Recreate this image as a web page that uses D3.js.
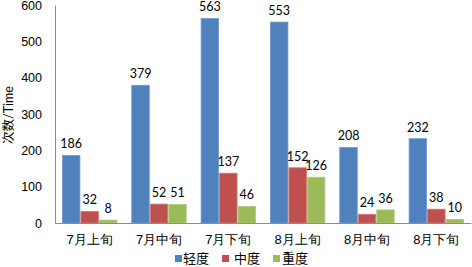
<!DOCTYPE html>
<html>
<head>
<meta charset="utf-8">
<script src="https://cdn.jsdelivr.net/npm/d3@7"></script>
<style>
  body { margin: 0; background: #fff; }
  svg { display: block; font-family: "Lato", "Noto Sans CJK SC", sans-serif; }
</style>
</head>
<body>
<div id="chart"></div>
<script>
const categories = ['7月上旬', '7月中旬', '7月下旬', '8月上旬', '8月中旬', '8月下旬'];
const seriesNames = ['轻度', '中度', '重度'];
const light = [186, 379, 563, 553, 208, 232];
const medium = [32, 52, 137, 152, 24, 38];
const heavy = [8, 51, 46, 126, 36, 10];
const yTicks = [0, 100, 200, 300, 400, 500, 600];
const colors = ['#4F81BD', '#C0504D', '#9BBB59'];
const strokes = ['#7199CB', '#CD7876', '#B0C97F'];

const data = categories.map((c, i) => ({
  category: c,
  values: [light[i], medium[i], heavy[i]]
}));

const width = 472, height = 267;
const plot = { left: 55, right: 471, top: 5, bottom: 223 };

const svg = d3.select('#chart').append('svg')
  .attr('width', width)
  .attr('height', height);

const x0 = d3.scaleBand()
  .domain(categories)
  .range([plot.left, plot.right])
  .paddingInner(0.2)
  .paddingOuter(0.1);

const x1 = d3.scaleBand()
  .domain(d3.range(3))
  .range([0, x0.bandwidth()]);

const y = d3.scaleLinear()
  .domain([0, 600])
  .range([plot.bottom, plot.top]);

// bars
const groups = svg.append('g')
  .selectAll('g')
  .data(data)
  .enter().append('g')
  .attr('transform', d => `translate(${x0(d.category)},0)`);

groups.selectAll('rect')
  .data(d => d.values.map((v, i) => ({ value: v, idx: i })))
  .enter().append('rect')
  .attr('x', d => x1(d.idx) + 0.5)
  .attr('y', d => y(d.value))
  .attr('width', x1.bandwidth() - 1)
  .attr('height', d => y(0) - y(d.value))
  .attr('fill', d => colors[d.idx])
  .attr('stroke', d => strokes[d.idx])
  .attr('stroke-width', 0.8);

// value labels
groups.selectAll('text')
  .data(d => d.values.map((v, i) => ({ value: v, idx: i })))
  .enter().append('text')
  .attr('x', d => x1(d.idx) + x1.bandwidth() / 2)
  .attr('y', d => y(d.value) - 7)
  .attr('text-anchor', 'middle')
  .style('font-size', '12.5px')
  .style('fill', '#000')
  .text(d => d.value);

// y axis
const yAxis = svg.append('g')
  .attr('transform', `translate(${plot.left},0)`)
  .call(d3.axisLeft(y).tickValues(yTicks).tickSize(0).tickPadding(13));
yAxis.select('.domain').attr('stroke', '#8c8c8c');
yAxis.selectAll('.tick text')
  .style('font-size', '12.5px')
  .style('fill', '#000')
  .attr('font-family', null);

// x axis
const xAxis = svg.append('g')
  .attr('transform', `translate(0,${plot.bottom})`)
  .call(d3.axisBottom(x0).tickSize(0).tickPadding(12));
xAxis.select('.domain').attr('stroke', '#8c8c8c');
xAxis.selectAll('.tick text')
  .style('font-size', '13px')
  .style('fill', '#000')
  .attr('font-family', null);

// y axis title
svg.append('text')
  .attr('transform', `translate(13,115) rotate(-90)`)
  .attr('text-anchor', 'middle')
  .style('font-size', '12.5px')
  .text('次数/Time');

// legend
const legendItems = [
  { name: seriesNames[0], sq: 175, tx: 183 },
  { name: seriesNames[1], sq: 222, tx: 234 },
  { name: seriesNames[2], sq: 273, tx: 282 }
];
const legend = svg.append('g');
legend.selectAll('rect')
  .data(legendItems)
  .enter().append('rect')
  .attr('x', d => d.sq)
  .attr('y', 255)
  .attr('width', 7)
  .attr('height', 7)
  .attr('fill', (d, i) => colors[i]);
legend.selectAll('text')
  .data(legendItems)
  .enter().append('text')
  .attr('x', d => d.tx)
  .attr('y', 263)
  .style('font-size', '13px')
  .text(d => d.name);
</script>
</body>
</html>
